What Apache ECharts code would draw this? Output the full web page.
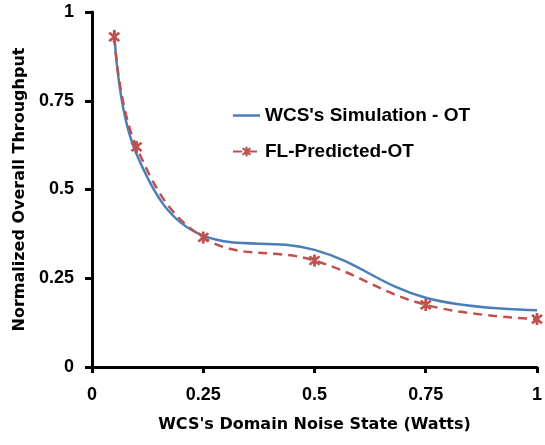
<!DOCTYPE html>
<html><head><meta charset="utf-8">
<script src="https://cdn.jsdelivr.net/npm/echarts@6/dist/echarts.min.js"></script>
<style>html,body{margin:0;padding:0;background:#fff}#c{width:545px;height:445px}</style>
</head><body><div id="c"></div>
<script>
const xTicks = [0, 0.25, 0.5, 0.75, 1];
const yTicks = [0, 0.25, 0.5, 0.75, 1];
const noise = [0.05, 0.1, 0.25, 0.5, 0.75, 1];
const simOT = [0.95, 0.60, 0.37, 0.33, 0.195, 0.16];
const flOT = [0.93, 0.62, 0.365, 0.30, 0.175, 0.135];
const seriesNames = ["WCS's Simulation - OT", "FL-Predicted-OT"];

const star = 'path://M-1,-5 L1,-5 L1,5 L-1,5 Z M-4.24,-2.83 L-2.83,-4.24 L4.24,2.83 L2.83,4.24 Z M-2.83,4.24 L-4.24,2.83 L2.83,-4.24 L4.24,-2.83 Z';
const font = 'Liberation Sans, Arial, sans-serif';
const chart = echarts.init(document.getElementById('c'));
chart.setOption({
  animation: false,
  grid: {left: 92, right: 7, top: 12, bottom: 78},
  legend: {
    orient: 'vertical', left: 227, top: 101, itemGap: 17, itemWidth: 27, itemHeight: 12,
    textStyle: {fontFamily: font, fontWeight: 'bold', fontSize: 19, color: '#000'},
    data: [{name: seriesNames[0], icon: 'path://M0,0 L27,0 L27,2.5 L0,2.5 Z'}, {name: seriesNames[1]}]
  },
  xAxis: {
    type: 'value', min: 0, max: 1, interval: 0.25,
    name: "WCS's Domain Noise State (Watts)", nameLocation: 'middle', nameGap: 50,
    nameTextStyle: {fontFamily: 'DejaVu Sans, sans-serif', fontWeight: 'bold', fontSize: 16, color: '#000'},
    axisLine: {lineStyle: {color: '#000', width: 3}},
    axisTick: {show: true, length: 6, lineStyle: {color: '#000', width: 3}},
    axisLabel: {fontFamily: font, fontWeight: 'bold', fontSize: 18, color: '#000', margin: 19,
      formatter: v => String(v)},
    splitLine: {show: false}
  },
  yAxis: {
    type: 'value', min: 0, max: 1, interval: 0.25,
    name: 'Normalized Overall Throughput', nameLocation: 'middle', nameGap: 64,
    nameTextStyle: {fontFamily: 'DejaVu Sans, sans-serif', fontWeight: 'bold', fontSize: 16, color: '#000'},
    axisLine: {show: true, lineStyle: {color: '#000', width: 3}},
    axisTick: {show: true, length: 7, lineStyle: {color: '#000', width: 3}},
    axisLabel: {fontFamily: font, fontWeight: 'bold', fontSize: 18, color: '#000', margin: 18,
      formatter: v => String(v)},
    splitLine: {show: false}
  },
  series: [
    {name: seriesNames[0], type: 'line', smooth: 0.4, showSymbol: false, symbol: 'none',
     data: noise.map((x, i) => [x, simOT[i]]),
     lineStyle: {color: '#4A7EBB', width: 2.5}, itemStyle: {color: '#4A7EBB'}, z: 2},
    {name: seriesNames[1], type: 'line', smooth: 0.4, symbol: star, symbolSize: 12,
     data: noise.map((x, i) => [x, flOT[i]]),
     lineStyle: {color: '#C0504D', width: 2.5, type: [9, 6]}, itemStyle: {color: '#C0504D'}, z: 3}
  ]
});
</script></body></html>
